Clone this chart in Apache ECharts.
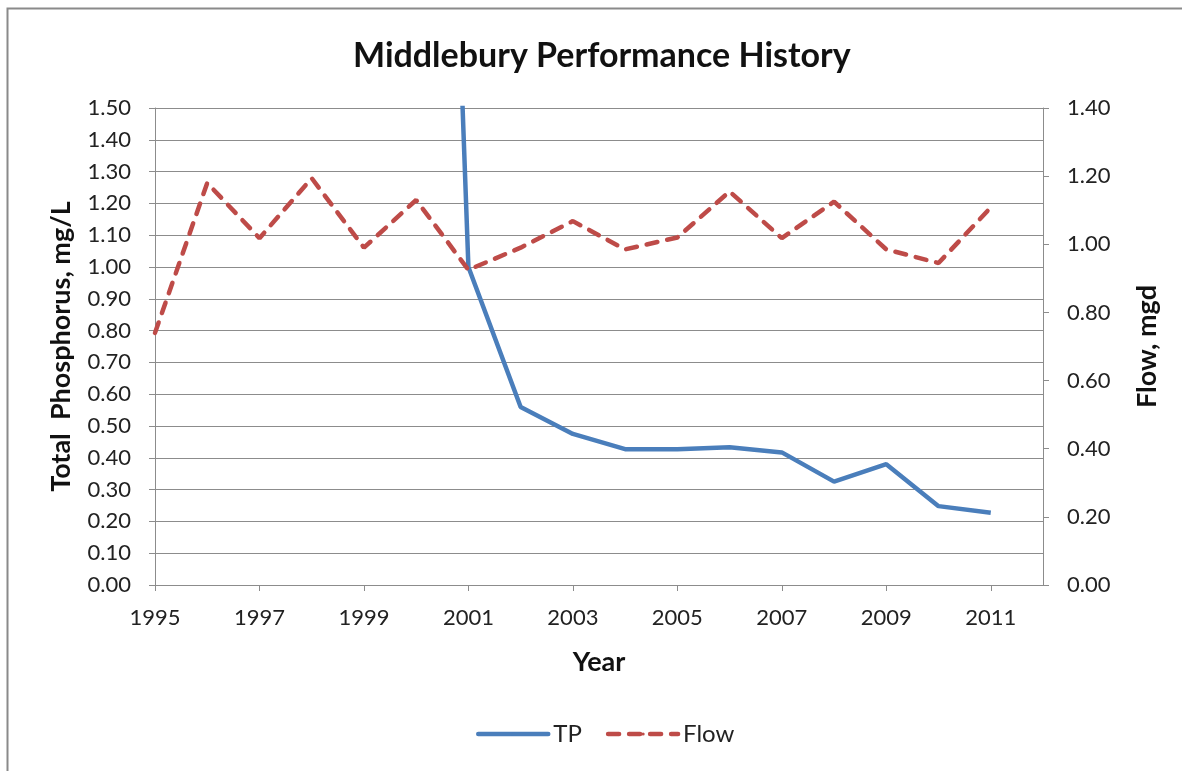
<!DOCTYPE html>
<html>
<head>
<meta charset="utf-8">
<title>Middlebury Performance History</title>
<script src="https://cdn.jsdelivr.net/npm/echarts@6/dist/echarts.min.js"></script>
<style>
  html, body { margin: 0; padding: 0; background: #fff; }
  #chart { width: 1182px; height: 771px; }
</style>
</head>
<body>
<div id="chart"></div>
<script>
// years on the x axis (one empty slot after 2011, as in the original plot area)
const years = ['1995', '1996', '1997', '1998', '1999', '2000', '2001', '2002', '2003',
  '2004', '2005', '2006', '2007', '2008', '2009', '2010', '2011']

// total phosphorus, mg/L (2000 is far above the 1.50 axis max and gets clipped)
const tp = [null, null, null, null, null, 5.5, 1.00, 0.56, 0.475, 0.427, 0.427, 0.433,
  0.417, 0.325, 0.38, 0.248, 0.227]

// flow, mgd
const flow = [0.74, 1.18, 1.018, 1.194, 0.99, 1.13, 0.925, 0.99, 1.068, 0.985, 1.02,
  1.155, 1.018, 1.125, 0.985, 0.945, 1.108]

const font = 'Lato, "Open Sans", sans-serif'
const gridColor = '#8c8c8c'

const chart = echarts.init(document.getElementById('chart'))

const option = {
  animation: false,
  textStyle: { fontFamily: font },
  title: {
    text: 'Middlebury Performance History',
    left: 348,
    top: 34,
    textStyle: { fontFamily: font, fontSize: 34, fontWeight: 'bold', color: '#111' }
  },
  graphic: [{
    type: 'rect',
    shape: { x: 7.5, y: 8.5, width: 1200, height: 800 },
    style: { fill: 'none', stroke: '#8a8a8a', lineWidth: 2 },
    silent: true
  }],
  legend: {
    bottom: 20,
    left: 471,
    itemWidth: 70,
    itemHeight: 4,
    itemGap: 24,
    lineStyle: { width: 4.5, cap: 'round' },
    textStyle: { fontFamily: font, fontSize: 24, color: '#222' },
    data: ['TP', 'Flow']
  },
  grid: { left: 155, right: 139, top: 108, bottom: 186 },
  xAxis: {
    type: 'category',
    boundaryGap: false,
    data: years.concat(['']),
    name: 'Year',
    nameLocation: 'middle',
    nameGap: 64,
    nameTextStyle: { fontFamily: font, fontSize: 27, fontWeight: 'bold', color: '#111' },
    axisLine: { lineStyle: { color: gridColor, width: 1 } },
    axisTick: { show: true, interval: 1, length: 6, lineStyle: { color: gridColor } },
    axisLabel: { interval: 1, fontSize: 22, color: '#222', margin: 22 },
    splitLine: { show: false }
  },
  yAxis: [
    {
      type: 'value',
      min: 0,
      max: 1.5,
      interval: 0.1,
      name: 'Total  Phosphorus, mg/L',
      nameLocation: 'middle',
      nameRotate: 90,
      nameGap: 80,
      nameTextStyle: { fontFamily: font, fontSize: 27, fontWeight: 'bold', color: '#111' },
      axisLine: { show: true, lineStyle: { color: gridColor, width: 1 } },
      axisTick: { show: true, length: 6, lineStyle: { color: gridColor } },
      axisLabel: { fontSize: 22, color: '#222', margin: 24, formatter: v => v.toFixed(2) },
      splitLine: { lineStyle: { color: gridColor, width: 1 } }
    },
    {
      type: 'value',
      min: 0,
      max: 1.4,
      interval: 0.2,
      position: 'right',
      name: 'Flow, mgd',
      nameLocation: 'middle',
      nameRotate: 90,
      nameGap: 91,
      nameTextStyle: { fontFamily: font, fontSize: 27, fontWeight: 'bold', color: '#111' },
      axisLine: { show: true, lineStyle: { color: gridColor, width: 1 } },
      axisTick: { show: true, length: 6, lineStyle: { color: gridColor } },
      axisLabel: { fontSize: 22, color: '#222', margin: 24, formatter: v => v.toFixed(2) },
      splitLine: { show: false }
    }
  ],
  series: [
    {
      name: 'TP',
      type: 'line',
      yAxisIndex: 0,
      data: tp,
      symbol: 'none',
      clip: true,
      connectNulls: false,
      lineStyle: { color: '#4a7ebb', width: 4.5 },
      itemStyle: { color: '#4a7ebb' }
    },
    {
      name: 'Flow',
      type: 'line',
      yAxisIndex: 1,
      data: flow,
      symbol: 'none',
      lineStyle: { color: '#be4b48', width: 4.5, type: [11, 10], cap: 'round' },
      itemStyle: { color: '#be4b48' }
    }
  ]
}

chart.setOption(option)

window.addEventListener('resize', () => {
  chart?.resize()
})
</script>
</body>
</html>
